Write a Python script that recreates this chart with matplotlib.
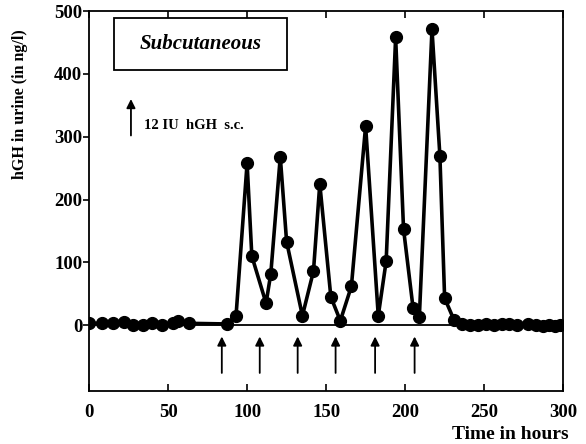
import numpy as np
import matplotlib
matplotlib.use('Agg')
import matplotlib.pyplot as plt
from matplotlib.patches import Rectangle

plt.rcParams['font.family'] = 'Liberation Serif'
plt.rcParams['font.weight'] = 'bold'

hours = [0, 8, 15, 22, 28, 34, 40, 46, 53, 56, 63, 87, 93, 100, 103, 112, 115,
         121, 125, 135, 142, 146, 153, 159, 166, 175, 183, 188, 194, 199, 205,
         209, 217, 222, 225, 231, 236, 241, 246, 251, 256, 261, 266, 271, 278,
         283, 287, 291, 295, 298]
hgh = [3, 3, 3, 5, 0, 0, 3, 1, 3, 7, 3, 2, 15, 258, 110, 35, 82,
       268, 133, 15, 86, 225, 45, 7, 62, 317, 15, 102, 458, 153, 28,
       13, 471, 270, 43, 8, 2, 0, 1, 2, 1, 2, 2, 1, 2,
       0, -1, 0, -1, 0]
injections = [84, 108, 132, 156, 181, 206]

fig = plt.figure(figsize=(5.86, 4.44), dpi=100)
ax = fig.add_axes([0.152, 0.119, 0.809, 0.856])

ax.axhline(0, color='black', lw=1.3, zorder=1)
ax.plot(hours, hgh, color='black', lw=2.6, marker='o', markersize=8.5, zorder=3)

for t in injections:
    ax.annotate('', xy=(t, -18), xytext=(t, -76),
                arrowprops=dict(arrowstyle='-|>', color='black', lw=1.3,
                                mutation_scale=13, shrinkA=0, shrinkB=0))

# legend arrow
ax.annotate('', xy=(26.5, 360), xytext=(26.5, 302),
            arrowprops=dict(arrowstyle='-|>', color='black', lw=1.3,
                            mutation_scale=13, shrinkA=0, shrinkB=0))
ax.text(35, 318, '12 IU  hGH  s.c.', fontsize=10.5, fontweight='bold', va='center')

ax.add_patch(Rectangle((15.8, 407), 109.5, 82, fc='white', ec='black', lw=1.3, zorder=2))
ax.text(70.5, 448, 'Subcutaneous', fontsize=15, fontweight='bold', style='italic',
        ha='center', va='center', zorder=4)

ax.set_xlim(0, 300)
ax.set_ylim(-105, 500)
ax.set_xticks([0, 50, 100, 150, 200, 250, 300])
ax.set_yticks([0, 100, 200, 300, 400, 500])
ax.tick_params(axis='x', direction='in', top=True, length=5, width=1.2,
               labelsize=13.5, pad=9)
ax.tick_params(axis='y', direction='out', length=4, width=1.2, labelsize=13.5, pad=1)
for lab in ax.get_xticklabels() + ax.get_yticklabels():
    lab.set_fontweight('bold')
for s in ax.spines.values():
    s.set_linewidth(1.3)

ax.set_ylabel('hGH in urine (in ng/l)', fontsize=11.5, fontweight='bold')
ax.yaxis.set_label_coords(-0.128, 0.755)
fig.text(0.87, 0.012, 'Time in hours', fontsize=14, fontweight='bold', ha='center')

fig.savefig('out.png', dpi=100)
